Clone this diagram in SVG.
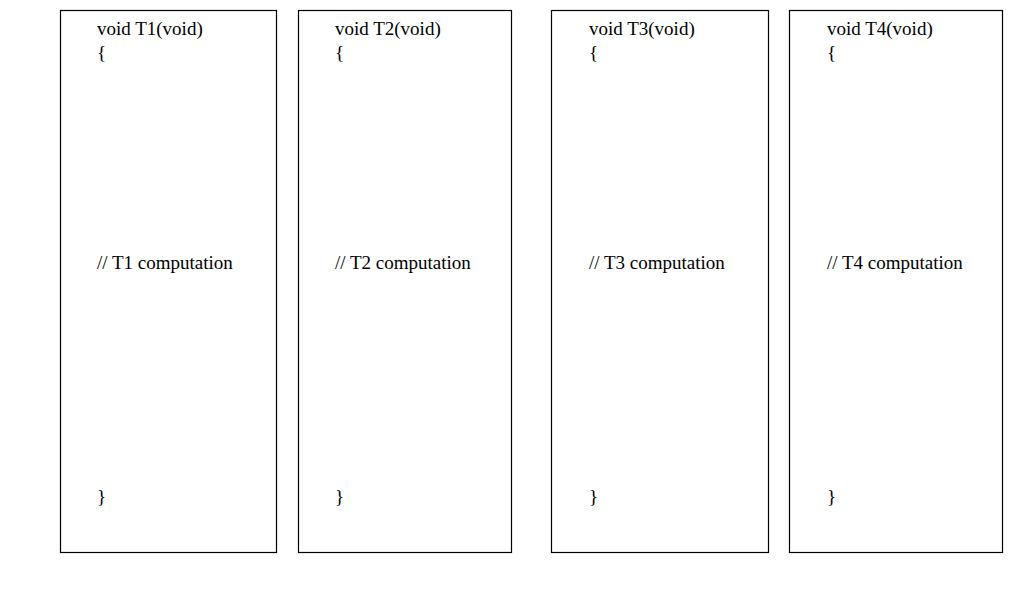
<svg xmlns="http://www.w3.org/2000/svg" width="1024" height="589" viewBox="0 0 1024 589">
<style>
rect{fill:#fff;stroke:#000;stroke-width:1.2}
text{font-family:"Liberation Serif",serif;font-size:19px;fill:#000}
</style>
<rect x="0" y="0" width="1024" height="589" style="stroke:none"/>
<g id="T1"><rect x="60.5" y="10.5" width="216" height="542"/><text x="97" y="35">void T1(void)</text><text x="97" y="59">{</text><text x="97" y="269">// T1 computation</text><text x="97" y="503">}</text></g>
<g id="T2"><rect x="298.5" y="10.5" width="213" height="542"/><text x="335" y="35">void T2(void)</text><text x="335" y="59">{</text><text x="335" y="269">// T2 computation</text><text x="335" y="503">}</text></g>
<g id="T3"><rect x="551.5" y="10.5" width="217" height="542"/><text x="589" y="35">void T3(void)</text><text x="589" y="59">{</text><text x="589" y="269">// T3 computation</text><text x="589" y="503">}</text></g>
<g id="T4"><rect x="789.5" y="10.5" width="213" height="542"/><text x="827" y="35">void T4(void)</text><text x="827" y="59">{</text><text x="827" y="269">// T4 computation</text><text x="827" y="503">}</text></g>
<g id="connectors"/>
</svg>
